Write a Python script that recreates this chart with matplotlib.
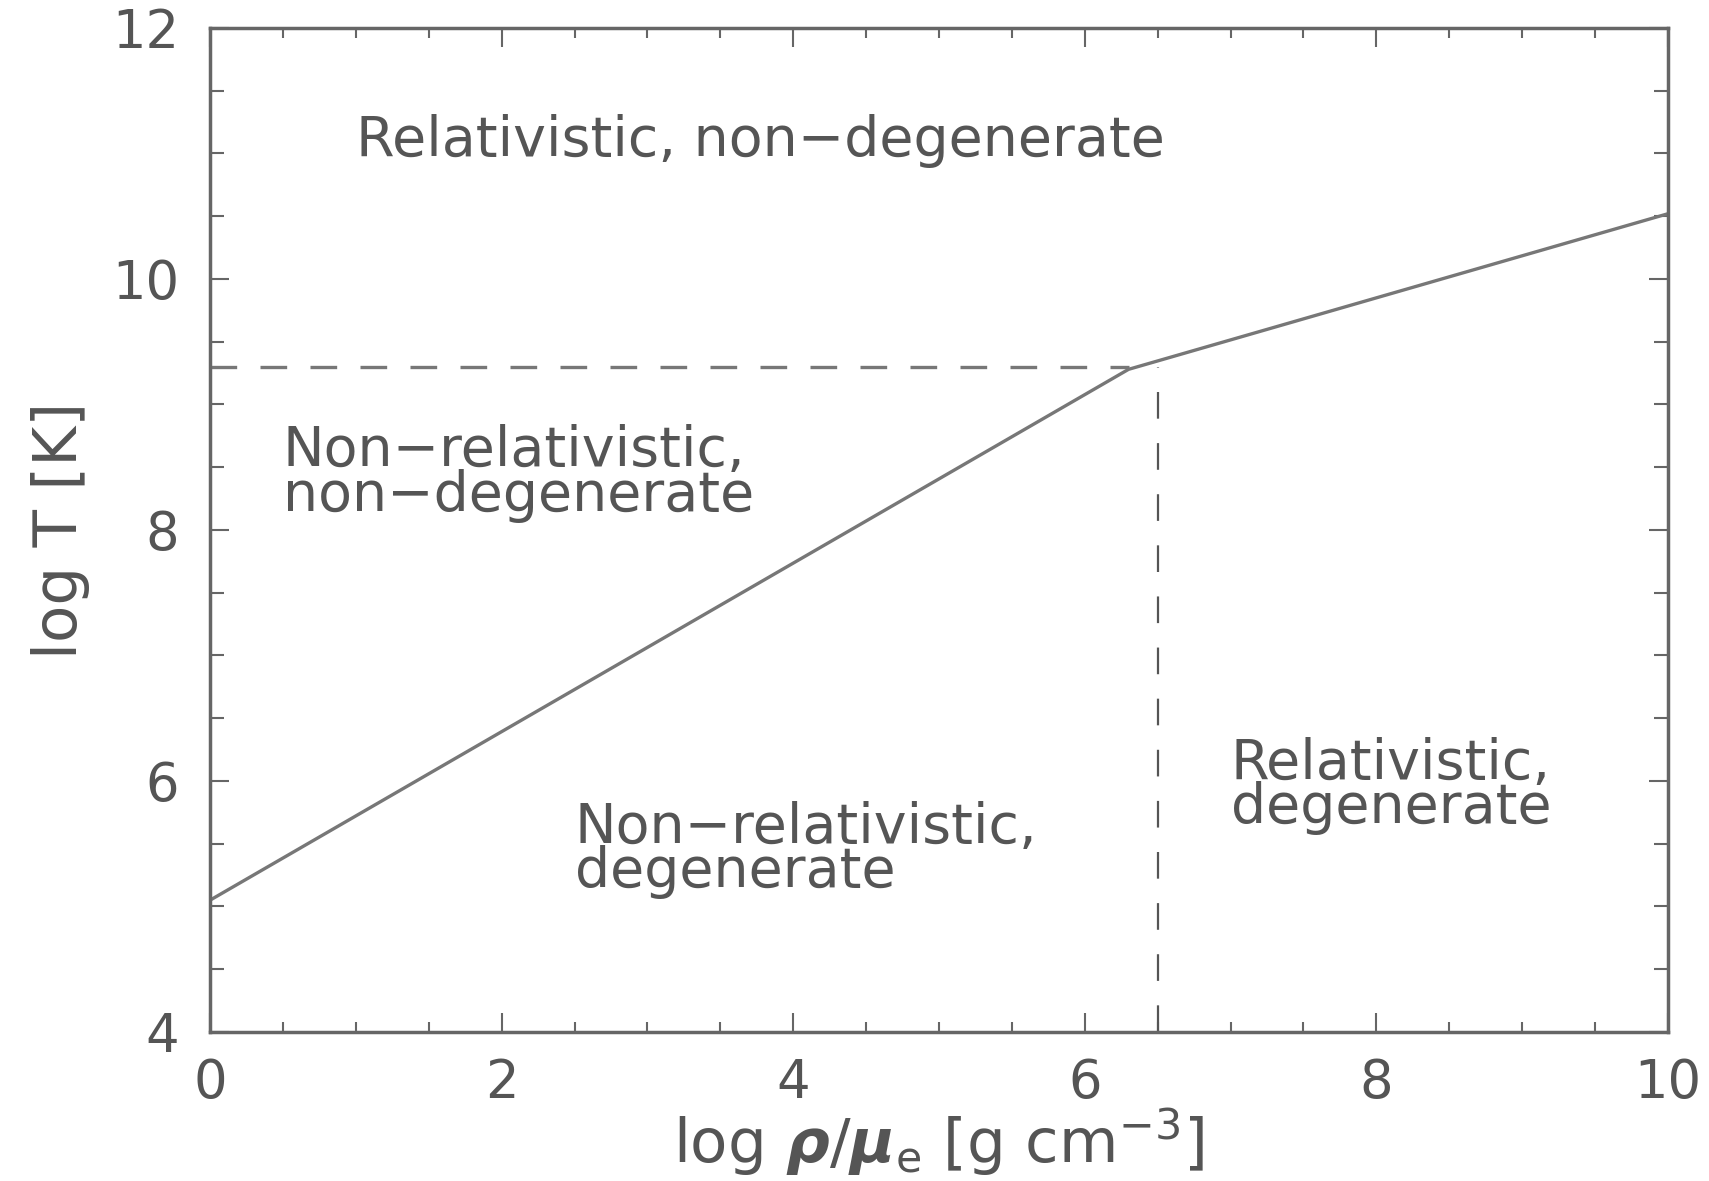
import matplotlib
matplotlib.use("Agg")
import matplotlib.pyplot as plt
from matplotlib.ticker import MultipleLocator

# Data
boundary_x = [0.0, 6.3, 10.0]
boundary_y = [5.05, 9.28, 10.52]
hdash_x = [0.0, 6.3]
hdash_y = [9.3, 9.3]
vdash_x = [6.5, 6.5]
vdash_y = [4.0, 9.3]
region_labels = ["Relativistic, non\u2212degenerate",
                 "Non\u2212relativistic,\nnon\u2212degenerate",
                 "Non\u2212relativistic,\ndegenerate",
                 "Relativistic,\ndegenerate"]
region_x = [1.0, 0.5, 2.5, 7.0]
region_y = [11.1, 8.45, 5.45, 5.96]
xticks = [0, 2, 4, 6, 8, 10]
yticks = [4, 6, 8, 10, 12]

plt.rcParams['font.family'] = ['DejaVu Sans']
plt.rcParams['mathtext.fontset'] = 'dejavusans'

txt = '#555555'
lc = '#777777'

fig = plt.figure(figsize=(17.09, 11.81), dpi=100)
ax = fig.add_axes([0.1229, 0.1262, 0.976 - 0.1229, 0.9763 - 0.1262])

ax.plot(boundary_x, boundary_y, color=lc, lw=2.4, solid_joinstyle='miter')
ax.plot(hdash_x, hdash_y, color=lc, lw=2.4, linestyle=(0, (8, 7)))
ax.plot(vdash_x, vdash_y, color='#555555', lw=1.6, linestyle=(0, (12, 11)))

for s, x, y in zip(region_labels, region_x, region_y):
    ax.text(x, y, s, color=txt, fontsize=40, ha='left', va='center',
            linespacing=0.78)

ax.set_xlim(0, 10)
ax.set_ylim(4, 12)
ax.set_xticks(xticks)
ax.set_yticks(yticks)
ax.xaxis.set_minor_locator(MultipleLocator(0.5))
ax.yaxis.set_minor_locator(MultipleLocator(0.5))
ax.tick_params(which='both', direction='in', top=True, right=True,
               color='#666666', width=1.5, labelcolor=txt, labelsize=38)
ax.tick_params(which='major', length=14, pad=18)
ax.tick_params(axis='x', which='minor', length=7)
ax.tick_params(axis='y', which='minor', length=10)
ax.tick_params(axis='y', which='major', pad=22)
for sp in ax.spines.values():
    sp.set_color('#666666')
    sp.set_linewidth(2.5)

ax.set_xlabel(r'log $\boldsymbol{\rho}/\boldsymbol{\mu}_{\rm e}$ [g cm$^{-3}$]',
              fontsize=44, color=txt, labelpad=-2)
ax.set_ylabel('log T [K]', fontsize=44, color=txt, labelpad=16)

fig.savefig('out.png', dpi=100)
